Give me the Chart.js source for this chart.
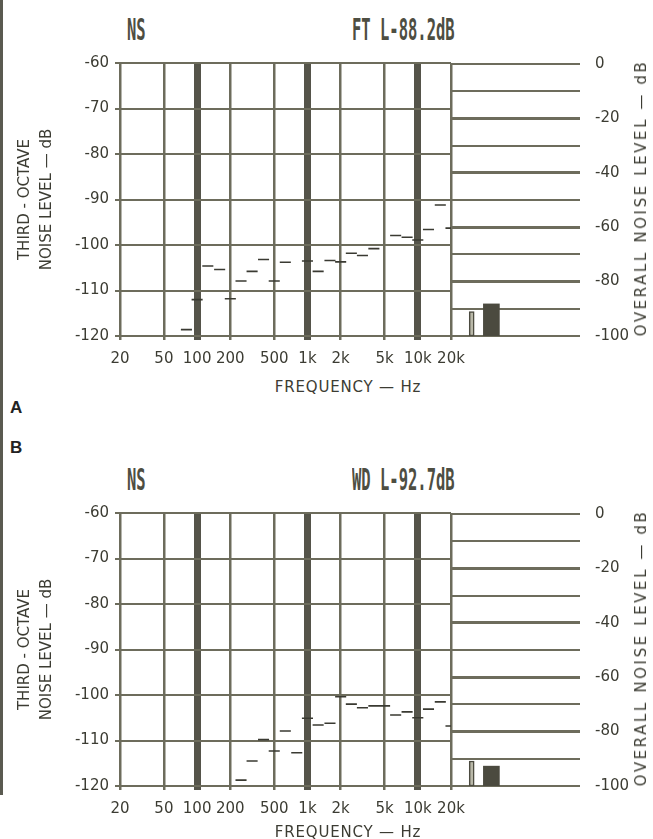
<!DOCTYPE html>
<html>
<head>
<meta charset="utf-8">
<script src="https://cdn.jsdelivr.net/npm/chart.js@4.4.1/dist/chart.umd.min.js"></script>
<style>
  html, body { margin: 0; padding: 0; background: #fff; width: 653px; height: 839px; overflow: hidden; }
  .panel { position: absolute; left: 0; width: 653px; height: 450px; }
  .panel canvas { position: absolute; }
  .ttl { position: absolute; font-family: 'DejaVu Sans Mono', monospace; font-size: 31px; line-height: 1;
         font-weight: bold; color: #4e4e42; transform: scaleX(0.5); transform-origin: 0 0; white-space: nowrap; }
  .lbl { position: absolute; font-family: 'DejaVu Sans', sans-serif; font-size: 15px; line-height: 16px;
         color: #3c3c33; white-space: nowrap; letter-spacing: 0.8px; }
  .xtitle { left: 348px; transform: translateX(-50%); }
  .rtitle { left: 641px; transform: translate(-50%, -50%) rotate(-90deg); letter-spacing: 2.6px; }
  .tag { position: absolute; left: 10px; font-family: 'Liberation Sans', Arial, sans-serif; font-weight: bold;
         font-size: 17px; color: #222; }
  .edge { position: absolute; left: 0; top: 0; width: 3px; height: 795px; background: #5a5a50; }
</style>
</head>
<body>
<div class="edge"></div>

<div class="panel" style="top:0">
  <div class="ttl" style="left:127px; top:14px">NS</div>
  <div class="ttl" style="left:352px; top:14px">FT L-88.2dB</div>
  <canvas id="specA" width="480" height="336" style="left:0; top:40px"></canvas>
  <canvas id="overA" width="213" height="320" style="left:440px; top:40px"></canvas>
  <div class="lbl xtitle" style="top:379px">FREQUENCY — Hz</div>
  <div class="lbl rtitle" style="top:198px">OVERALL NOISE LEVEL — dB</div>
</div>
<div class="tag" style="top:398px">A</div>
<div class="tag" style="top:438px">B</div>

<div class="panel" style="top:450px">
  <div class="ttl" style="left:127px; top:14px">NS</div>
  <div class="ttl" style="left:352px; top:14px">WD L-92.7dB</div>
  <canvas id="specB" width="480" height="336" style="left:0; top:40px"></canvas>
  <canvas id="overB" width="213" height="320" style="left:440px; top:40px"></canvas>
  <div class="lbl xtitle" style="top:374px">FREQUENCY — Hz</div>
  <div class="lbl rtitle" style="top:198px">OVERALL NOISE LEVEL — dB</div>
</div>

<script>
// third-octave band centres (Hz) and the levels (dB), null = no mark
const bandFreqs = [80, 100, 125, 160, 200, 250, 315, 400, 500, 630, 800, 1000, 1250, 1600,
                   2000, 2500, 3150, 4000, 5000, 6300, 8000, 10000, 12500, 16000, 20000];
const levelsFT = [-118.6, -112.0, -104.6, -105.4, -111.8, -107.9, -105.8, -103.2, -107.9, -103.8, null,
                  -103.5, -105.8, -103.4, -103.7, -101.8, -102.3, -100.8, null, -97.9, -98.3, -98.9,
                  -96.6, -91.2, -96.3];
const levelsWD = [null, null, null, null, null, -118.7, -114.5, -109.8, -112.3, -107.9, -112.7,
                  -105.1, -106.6, -106.2, -100.4, -102.0, -102.8, -102.4, -102.4, -104.4, -103.7,
                  -105.0, -103.1, -101.5, -106.8];

// overall noise level bars: reference marker and weighted overall level
const overallNames = ['ref', 'L'];
const overallFT = [-91.0, -88.2];
const overallWD = [-90.8, -92.7];

// axes
const freqTicks = [20, 50, 100, 200, 500, 1000, 2000, 5000, 10000, 20000];
const freqTickLabels = ['20', '50', '100', '200', '500', '1k', '2k', '5k', '10k', '20k'];
const decadeTicks = [100, 1000, 10000];
const levelTicks = [-120, -110, -100, -90, -80, -70, -60];
const levelTickLabels = ['-120', '-110', '-100', '-90', '-80', '-70', '-60'];
const overallTicks = [-100, -90, -80, -70, -60, -50, -40, -30, -20, -10, 0];
const overallTickLabels = ['-100', '', '-80', '', '-60', '', '-40', '', '-20', '', '0'];

const INK = '#6d6c5c';
const INK_DARK = '#55544a';
const TEXT = '#3c3c33';

Chart.defaults.font.family = "'DejaVu Sans', 'Liberation Sans', sans-serif";
Chart.defaults.font.size = 15;
Chart.defaults.color = TEXT;

function makeSpectrum(id, levels) {
    const pts = [];
    bandFreqs.forEach((f, i) => {
        const v = levels[i];
        if (v === null) return;
        const lo = f * Math.pow(2, -1 / 6);
        const hi = f * Math.pow(2, 1 / 6);
        pts.push({ x: lo, y: v }, { x: hi, y: v }, { x: hi, y: null });
    });

    new Chart(document.getElementById(id), {
        type: 'line',
        data: {
            datasets: [{
                data: pts,
                borderColor: '#3a3a32',
                borderWidth: 1.6,
                pointRadius: 0,
                spanGaps: false,
                tension: 0
            }]
        },
        options: {
            responsive: false,
            animation: false,
            layout: { padding: { left: 0, right: 29, top: 23, bottom: 0 } },
            plugins: { legend: { display: false }, tooltip: { enabled: false } },
            scales: {
                x: {
                    type: 'logarithmic',
                    min: 20,
                    max: 20000,
                    z: 1,
                    afterBuildTicks: s => { s.ticks = freqTicks.map(v => ({ value: v })); },
                    afterFit: s => { s.height = 40; },
                    ticks: {
                        autoSkip: false,
                        maxRotation: 0,
                        minRotation: 0,
                        padding: 10,
                        callback: (v, i) => freqTickLabels[i]
                    },
                    grid: {
                        color: c => decadeTicks.includes(c.tick && c.tick.value) ? INK_DARK : INK,
                        lineWidth: c => decadeTicks.includes(c.tick && c.tick.value) ? 7 : 2.5,
                        tickLength: 4
                    },
                    border: { display: false }
                },
                y: {
                    min: -120,
                    max: -60,
                    afterBuildTicks: s => { s.ticks = levelTicks.map(v => ({ value: v })); },
                    afterFit: s => { s.width = 120; },
                    ticks: {
                        padding: 6,
                        callback: v => levelTickLabels[levelTicks.indexOf(v)]
                    },
                    grid: { color: INK, lineWidth: 2, tickLength: 5 },
                    border: { display: false },
                    title: {
                        display: true,
                        text: ['THIRD - OCTAVE', 'NOISE LEVEL — dB'],
                        font: { size: 15, lineHeight: '22px' },
                        padding: { top: 14, bottom: 0 }
                    }
                }
            }
        }
    });
}

function makeOverall(id, levels) {
    new Chart(document.getElementById(id), {
        type: 'bar',
        data: {
            labels: overallNames,
            datasets: [
                {
                    data: [{ x: 1, y: [-100, levels[0]] }],
                    barThickness: 5,
                    backgroundColor: '#b9b8a8',
                    borderColor: '#4b4a3f',
                    borderWidth: 1.5,
                    borderSkipped: false,
                    grouped: false
                },
                {
                    data: [{ x: 2, y: [-100, levels[1]] }],
                    barThickness: 16,
                    backgroundColor: '#4b4a3f',
                    borderWidth: 0,
                    grouped: false
                }
            ]
        },
        options: {
            responsive: false,
            animation: false,
            layout: { padding: { left: 12, right: 0, top: 23, bottom: 24 } },
            plugins: { legend: { display: false }, tooltip: { enabled: false } },
            scales: {
                x: { type: 'linear', min: 0, max: 6.5, offset: false, display: false },
                y: {
                    position: 'right',
                    min: -100,
                    max: 0,
                    afterBuildTicks: s => { s.ticks = overallTicks.map(v => ({ value: v })); },
                    afterFit: s => { s.width = 73; },
                    ticks: {
                        padding: 15,
                        callback: v => overallTickLabels[overallTicks.indexOf(v)]
                    },
                    grid: {
                        color: INK,
                        lineWidth: c => (c.tick && c.tick.value % 20 === 0 && c.tick.value > -100 && c.tick.value < 0) ? 3 : 2,
                        drawTicks: false
                    },
                    border: { display: false }
                }
            }
        }
    });
}

makeSpectrum('specA', levelsFT);
makeOverall('overA', overallFT);
makeSpectrum('specB', levelsWD);
makeOverall('overB', overallWD);
</script>
</body>
</html>
